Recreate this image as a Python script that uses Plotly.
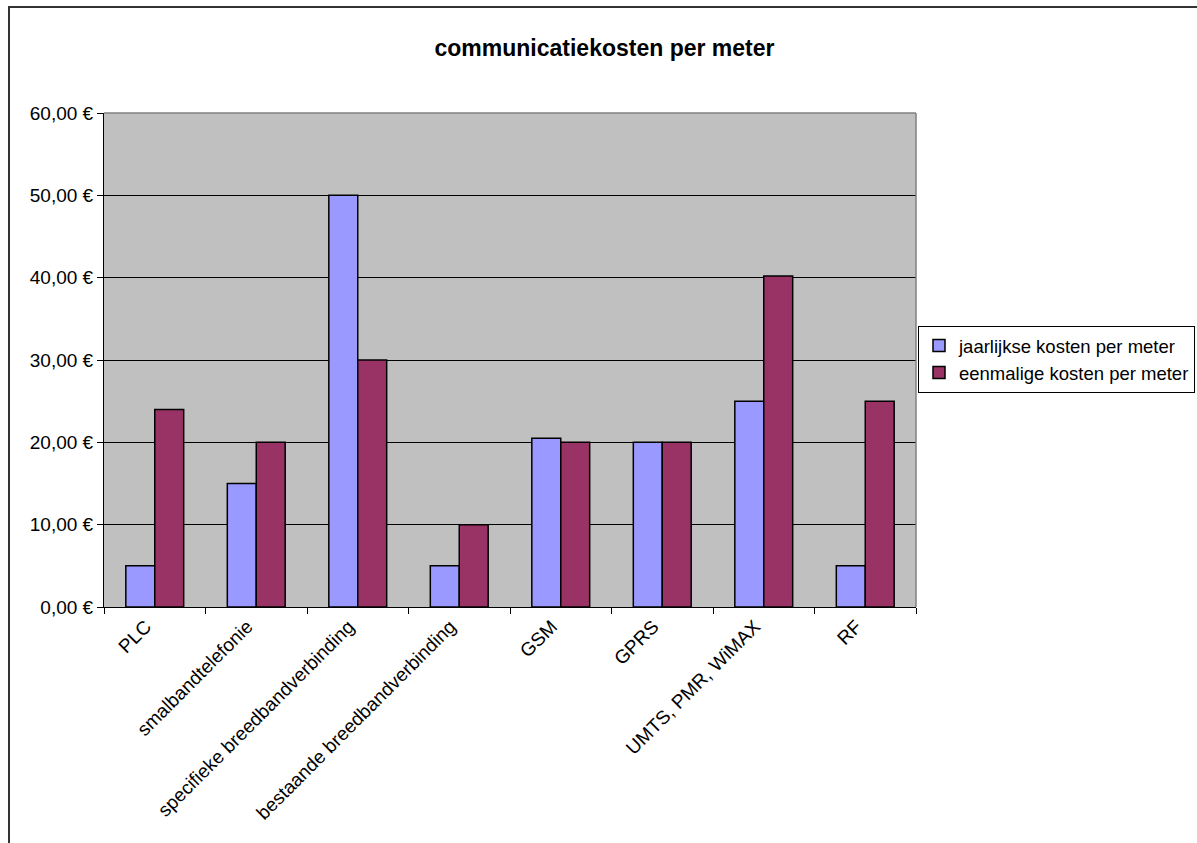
import plotly.graph_objects as go

categories = ["PLC", "smalbandtelefonie", "specifieke breedbandverbinding",
              "bestaande breedbandverbinding", "GSM", "GPRS", "UMTS, PMR, WiMAX", "RF"]
jaarlijks = [5, 15, 50, 5, 20.5, 20, 25, 5]
eenmalig = [24, 20, 30, 10, 20, 20, 40.2, 25]
y_ticks = [0, 10, 20, 30, 40, 50, 60]
y_labels = ["0,00 €", "10,00 €", "20,00 €", "30,00 €", "40,00 €", "50,00 €", "60,00 €"]

W, H = 1197, 843
L, R, T, B = 104, 916, 113, 607
pw, ph = R - L, B - T

def px(x):
    return (x - L) / pw

def py(y):
    return (B - y) / ph

font = "Liberation Sans, Arial, sans-serif"

fig = go.Figure()
fig.add_trace(go.Bar(x=categories, y=jaarlijks, name="jaarlijkse kosten per meter",
                     marker=dict(color="#9999FF", line=dict(color="#000000", width=1.5))))
fig.add_trace(go.Bar(x=categories, y=eenmalig, name="eenmalige kosten per meter",
                     marker=dict(color="#993366", line=dict(color="#000000", width=1.5))))

fig.update_layout(
    width=W, height=H,
    margin=dict(l=L, r=W - R, t=T, b=H - B, autoexpand=False),
    paper_bgcolor="white",
    plot_bgcolor="#C0C0C0",
    barmode="group",
    bargap=0.43,
    bargroupgap=0,
    font=dict(family=font, size=19, color="black"),
    title=dict(text="<b>communicatiekosten per meter</b>", x=px(604.5), xref="paper",
               xanchor="center", y=1 - 48 / H, yanchor="middle",
               font=dict(family=font, size=23, color="black")),
    legend=dict(x=px(918), y=py(326), xanchor="left", yanchor="top",
                bgcolor="white", bordercolor="black", borderwidth=1,
                font=dict(family=font, size=18.5), traceorder="normal",
                itemwidth=30, tracegroupgap=2),
    showlegend=True,
)
fig.update_xaxes(showgrid=False, ticks="outside", ticklen=6, tickcolor="#000000",
                 tickson="boundaries", tickangle=-45, showline=True, linecolor="#000000",
                 linewidth=1, mirror=False, tickfont=dict(family=font, size=19),
                 ticklabelshift=-9)
fig.update_yaxes(range=[0, 60], tickvals=y_ticks, ticktext=y_labels, showgrid=True,
                 gridcolor="#000000", gridwidth=1, ticks="outside", ticklen=6,
                 tickcolor="#000000", showline=True, linecolor="#000000", linewidth=1,
                 zeroline=False, tickfont=dict(family=font, size=19))

# plot area grey border on top and right
fig.add_shape(type="line", xref="paper", yref="paper", x0=0, x1=1, y0=1, y1=1,
              line=dict(color="#808080", width=1.5))
fig.add_shape(type="line", xref="paper", yref="paper", x0=1, x1=1, y0=0, y1=1,
              line=dict(color="#808080", width=1.5))
# outer chart border
fig.add_shape(type="rect", xref="paper", yref="paper",
              x0=px(9), x1=px(1300), y0=py(7), y1=py(950),
              line=dict(color="#333333", width=2), fillcolor="rgba(0,0,0,0)", layer="above")

fig.write_html("out.html")
